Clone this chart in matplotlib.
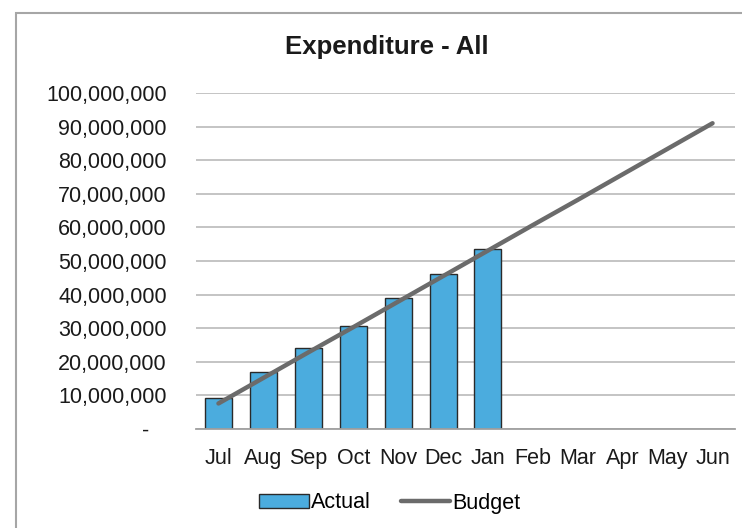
import matplotlib
matplotlib.use("Agg")
import matplotlib.pyplot as plt
from matplotlib.patches import Rectangle
from matplotlib.ticker import FuncFormatter, MultipleLocator

plt.rcParams['font.family'] = ['Liberation Sans', 'DejaVu Sans']

months = ["Jul", "Aug", "Sep", "Oct", "Nov", "Dec",
          "Jan", "Feb", "Mar", "Apr", "May", "Jun"]
actual = [9_100_000, 17_000_000, 24_200_000, 30_700_000, 39_000_000,
          46_100_000, 53_500_000]
budget = [7_600_000, 15_200_000, 22_800_000, 30_300_000, 37_900_000,
          45_500_000, 53_100_000, 60_700_000, 68_200_000, 75_800_000,
          83_400_000, 91_000_000]

W, H = 742, 528
fig = plt.figure(figsize=(W / 100, H / 100), dpi=100)

# outer chart frame
fig.patches.append(Rectangle((16 / W, -0.1), 1.2, 1 - 13 / H + 0.1,
                             transform=fig.transFigure, fill=False,
                             edgecolor="#A6A6A6", linewidth=1.5))

ax = fig.add_axes([196 / W, 1 - 429 / H, (735 - 196) / W, (429 - 93) / H])

x = range(len(months))
bars = ax.bar(range(len(actual)), actual, width=0.6, color="#4BACDE",
              edgecolor="#2A2A2A", linewidth=1.0, label="Actual", zorder=2)
line, = ax.plot(x, budget, color="#6B6B6B", linewidth=3.2,
                solid_capstyle="round", label="Budget", zorder=3)

ax.set_xlim(-0.5, len(months) - 0.5)
ax.set_ylim(0, 100_000_000)
ax.yaxis.set_major_locator(MultipleLocator(10_000_000))
ax.yaxis.set_major_formatter(FuncFormatter(
    lambda v, p: "-   " if v == 0 else f"{v:,.0f}"))
ax.set_xticks(list(x))
ax.set_xticklabels(months)

ax.grid(axis="y", color="#BFBFBF", linewidth=1.3, zorder=0)
ax.set_axisbelow(True)
for s in ["top", "right", "left"]:
    ax.spines[s].set_visible(False)
ax.spines["bottom"].set_color("#A0A0A0")
ax.spines["bottom"].set_linewidth(1.3)
ax.tick_params(axis="both", length=0, labelsize=15.5, colors="#1A1A1A")
ax.tick_params(axis="y", pad=21)
ax.tick_params(axis="x", pad=14)

fig.text(387 / W, 1 - 47 / H, "Expenditure - All", ha="center", va="center",
         fontsize=18.5, fontweight="bold", color="#1A1A1A")

fig.legend([bars, line], ["Actual", "Budget"], loc="center",
           bbox_to_anchor=(390 / W, 1 - 503 / H), ncol=2,
           frameon=False, fontsize=15.5, handlelength=2.3, handleheight=0.6,
           handletextpad=0.1, columnspacing=1.4)

fig.savefig("out.png", dpi=100)
